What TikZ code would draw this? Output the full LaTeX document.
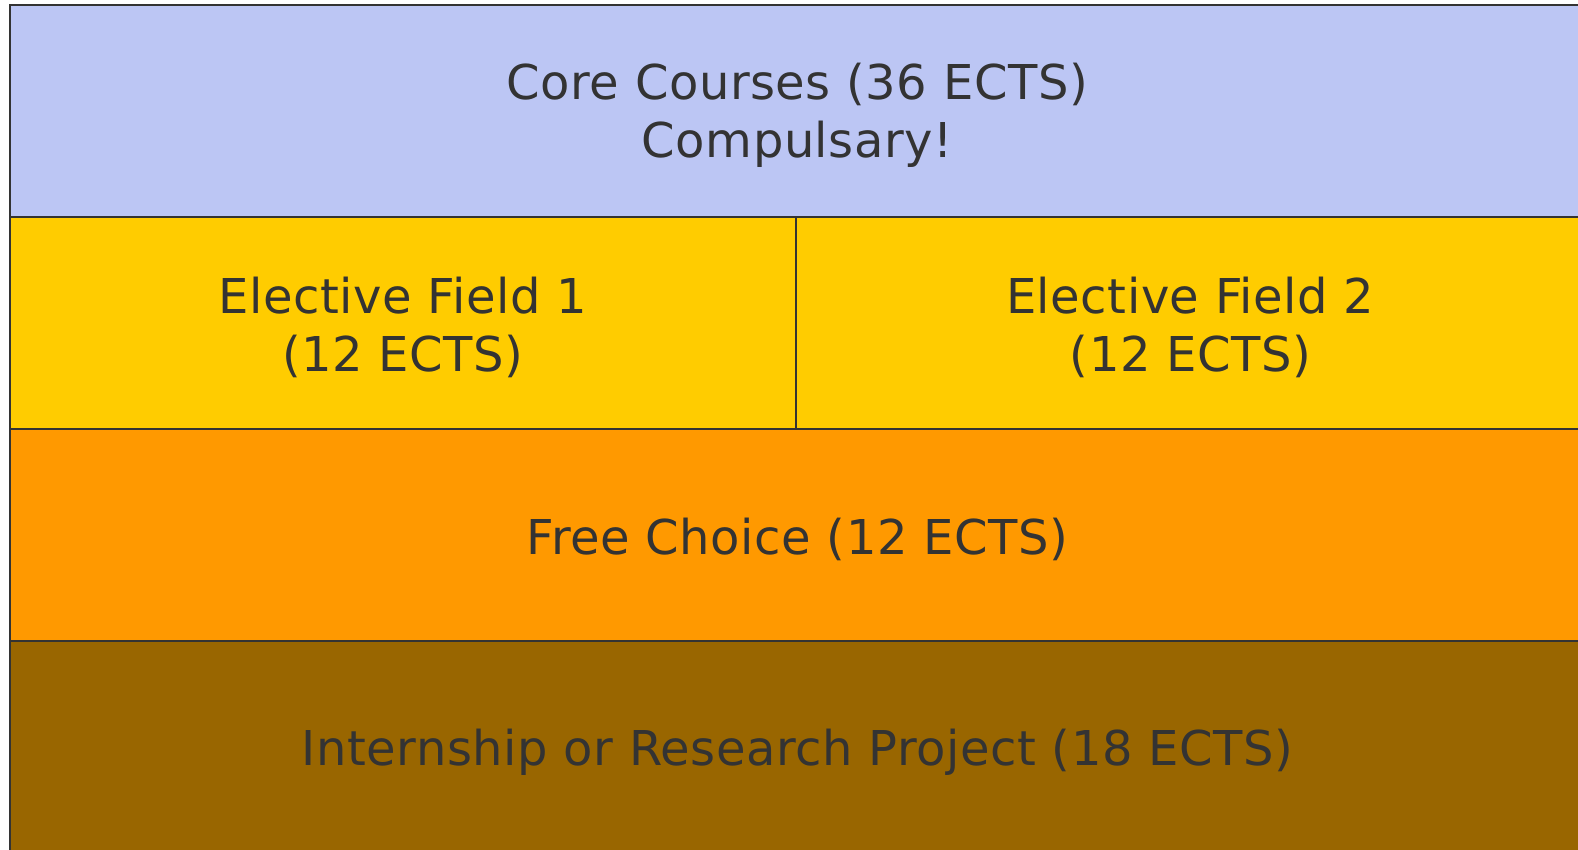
\documentclass[tikz,border=0pt]{standalone}
\usepackage{fontspec}
\setmainfont[LetterSpace=1.1]{DejaVu Sans}
\definecolor{coreblue}{RGB}{188,198,244}
\definecolor{elecyellow}{RGB}{255,204,0}
\definecolor{freeorange}{RGB}{255,153,0}
\definecolor{internbrown}{RGB}{153,102,0}
\definecolor{txtgray}{RGB}{51,51,51}
\definecolor{edgegray}{RGB}{51,51,51}
\begin{document}
\begin{tikzpicture}[x=1pt,y=-1pt,
  block/.style={draw=edgegray, line width=1.6pt, anchor=north west, inner sep=0pt},
  blocktext/.style={inner sep=0pt, text=txtgray, align=center,
    font=\fontsize{48}{57.6}\selectfont, yshift=-4.5pt},
]
\useasboundingbox (0,0) rectangle (1578,849);
\clip (0,0) rectangle (1578,849);
\fill[white] (0,0) rectangle (1578,849);
\node[block, fill=coreblue, minimum width=1575pt, minimum height=212pt] (core) at (9,4) {};
\node[block, fill=elecyellow, minimum width=786pt, minimum height=212pt] (ef1) at (9,216) {};
\node[block, fill=elecyellow, minimum width=789pt, minimum height=212pt] (ef2) at (795,216) {};
\node[block, fill=freeorange, minimum width=1575pt, minimum height=212pt] (free) at (9,428) {};
\node[block, fill=internbrown, minimum width=1575pt, minimum height=214pt] (intern) at (9,640) {};
\node[blocktext] (coret) at (core.center) {Core Courses (36 ECTS)\\Compulsary!};
\node[blocktext] (ef1t) at (ef1.center) {Elective Field 1\\(12 ECTS)};
\node[blocktext] (ef2t) at (ef2.center) {Elective Field 2\\(12 ECTS)};
\node[blocktext] (freet) at (free.center) {Free Choice (12 ECTS)};
\node[blocktext] (internt) at (intern.center) {Internship or Research Project (18 ECTS)};
\end{tikzpicture}
\end{document}
